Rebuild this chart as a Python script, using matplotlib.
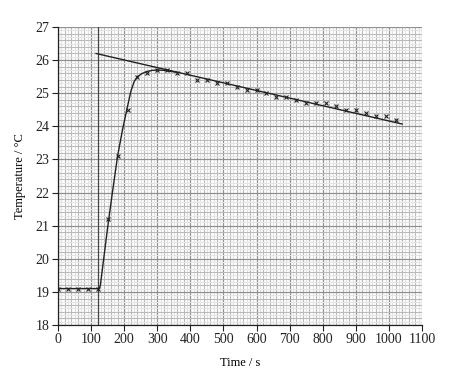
import numpy as np
import matplotlib
matplotlib.use("Agg")
import matplotlib.pyplot as plt

# measured points (time / s, temperature / degC)
time_s = [0, 30, 60, 90, 120, 150, 180, 210, 240, 270, 300, 330, 360, 390,
          420, 450, 480, 510, 540, 570, 600, 630, 660, 690, 720, 750, 780,
          810, 840, 870, 900, 930, 960, 990, 1020]
temp_c = [19.1, 19.1, 19.1, 19.1, 19.1, 21.2, 23.1, 24.5, 25.5, 25.6, 25.7,
          25.7, 25.6, 25.6, 25.4, 25.4, 25.3, 25.3, 25.2, 25.1, 25.1, 25.0,
          24.9, 24.9, 24.8, 24.7, 24.7, 24.7, 24.6, 24.5, 24.5, 24.4, 24.3,
          24.3, 24.2]

# hand-drawn curve through the points
curve_t = [0, 124, 128, 133, 150, 165, 180, 195, 210, 220, 230, 240, 255,
           270, 285, 300, 320, 340, 360]
curve_y = [19.1, 19.1, 19.2, 19.6, 20.95, 22.05, 23.1, 23.9, 24.6, 25.05,
           25.35, 25.5, 25.6, 25.66, 25.69, 25.7, 25.69, 25.66, 25.63]

# extrapolated cooling line
extrap_t = [115, 1040]
extrap_y = [26.2, 24.07]

# time of mixing
mix_t = 120

plt.rcParams["font.family"] = ["Liberation Serif", "DejaVu Serif"]

fig = plt.figure(figsize=(4.54, 3.76), dpi=100)
ax = fig.add_axes([0.1278, 0.1356, 0.8017, 0.7926])

# graph paper
for x in np.arange(0, 1101, 10):
    if x % 100 == 0:
        c, lw = "#909090", 0.9
    elif x % 20 == 0:
        c, lw = "#bababa", 0.8
    else:
        c, lw = "#e4e4e4", 0.8
    ax.axvline(x, color=c, linewidth=lw, zorder=0)
for y in np.arange(18, 27.001, 0.1):
    k = round(y * 10)
    if k % 10 == 0:
        c, lw = "#909090", 0.9
    elif k % 2 == 0:
        c, lw = "#bababa", 0.8
    else:
        c, lw = "#e4e4e4", 0.8
    ax.axhline(y, color=c, linewidth=lw, zorder=0)

ax.axvline(mix_t, color="#444444", linewidth=0.9, zorder=2)
ax.plot(extrap_t, extrap_y, color="#222222", linewidth=1.0, zorder=3)
ax.plot(curve_t, curve_y, color="#222222", linewidth=1.0, zorder=3)
ax.plot(time_s, temp_c, linestyle="none", marker="x", markersize=3,
        markeredgewidth=0.8, color="#222222", zorder=4)

ax.set_xlim(0, 1100)
ax.set_ylim(18, 27)
ax.set_xticks(np.arange(0, 1101, 100))
ax.set_yticks(np.arange(18, 28, 1))
ax.tick_params(direction="out", length=4, width=0.8, labelsize=10, pad=2,
               colors="#222222")
for s in ["top", "right"]:
    ax.spines[s].set_visible(False)
for s in ["left", "bottom"]:
    ax.spines[s].set_color("#222222")
    ax.spines[s].set_linewidth(0.9)

ax.set_xlabel("Time / s", fontsize=9, labelpad=8)
ax.set_ylabel("Temperature / \u00b0C", fontsize=9, labelpad=7)

fig.savefig("out.png", dpi=100)
